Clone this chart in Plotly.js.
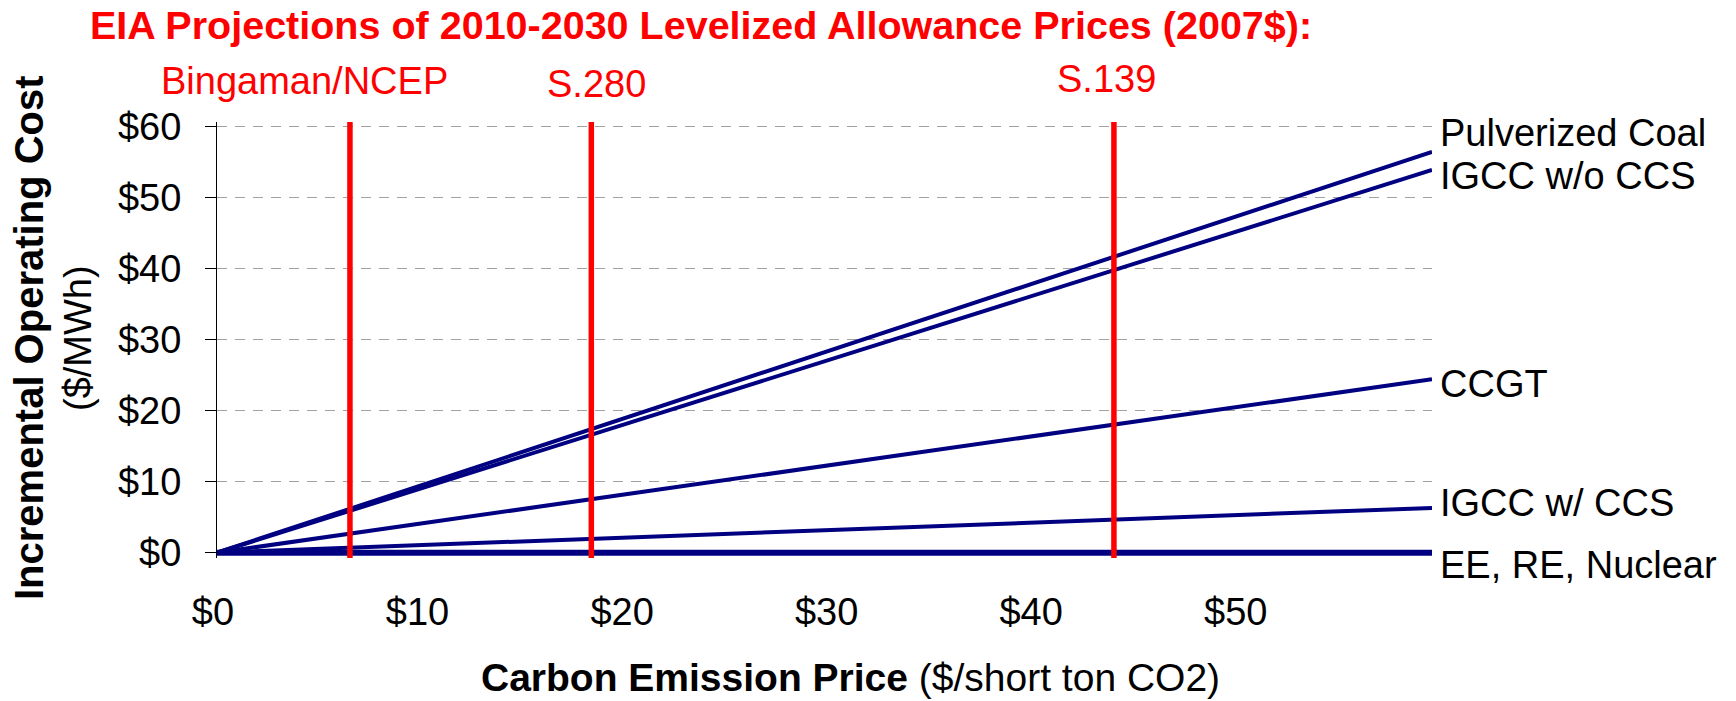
<!DOCTYPE html>
<html>
<head>
<meta charset="utf-8">
<script src="https://cdn.plot.ly/plotly-3.0.1.min.js"></script>
<style>html,body{margin:0;padding:0;background:#fff;}#chart{width:1736px;height:701px;}</style>
</head>
<body>
<div id="chart"></div>
<script>
// ---- data ----
const carbonPrice = [0, 59.4];                 // $/short ton CO2 (start, end of lines)
const seriesNames = ['EE, RE, Nuclear', 'IGCC w/ CCS', 'CCGT', 'IGCC w/o CCS', 'Pulverized Coal'];
const eeReNuclear = [0, 0];
const igccWithCcs = [0, 6.3];
const ccgt = [0, 24.4];
const igccWithoutCcs = [0, 53.85];
const pulverizedCoal = [0, 56.4];
const policyNames = ['Bingaman/NCEP', 'S.280', 'S.139'];
const policyPrices = [6.5, 18.3, 43.85];
const xTickVals = [0, 10, 20, 30, 40, 50];
const xTickText = ['$0', '$10', '$20', '$30', '$40', '$50'];
const yTickVals = [0, 10, 20, 30, 40, 50, 60];
const yTickText = ['$0', '$10', '$20', '$30', '$40', '$50', '$60'];

const FONT = 'Liberation Sans, Arial, sans-serif';
const NAVY = '#000080';
const RED = '#FF0000';

const seriesValues = [eeReNuclear, igccWithCcs, ccgt, igccWithoutCcs, pulverizedCoal];
const seriesWidths = [6, 4, 4, 4, 4];
const traces = seriesValues.map((vals, i) => ({
  type: 'scatter', mode: 'lines', name: seriesNames[i],
  x: carbonPrice, y: vals,
  line: {color: NAVY, width: seriesWidths[i]},
  hoverinfo: 'skip', showlegend: false
}));

const shapes = policyPrices.map(p => ({
  type: 'line', xref: 'x', yref: 'y domain', x0: p, x1: p, y0: 0, y1: 1,
  line: {color: RED, width: 5.5}, layer: 'above'
}));

// label positions (paper coords)
const policyLabelPos = [[0.0720, 1.0929], [0.3123, 1.0872], [0.7317, 1.0986]];
const seriesLabelY = {'Pulverized Coal': 0.9748, 'IGCC w/o CCS': 0.8761, 'CCGT': 0.3991, 'IGCC w/ CCS': 0.1261, 'EE, RE, Nuclear': -0.0161};

const annotations = [];
annotations.push({
  xref: 'paper', yref: 'paper', x: -0.1053, y: 1.2225, xanchor: 'left', yanchor: 'middle',
  text: '<b>EIA Projections of 2010-2030 Levelized Allowance Prices (2007$):</b>',
  showarrow: false, borderpad: 0, font: {family: FONT, size: 39.5, color: RED}
});
policyNames.forEach((n, i) => annotations.push({
  xref: 'paper', yref: 'paper', x: policyLabelPos[i][0], y: policyLabelPos[i][1],
  xanchor: 'center', yanchor: 'middle', text: n, showarrow: false, borderpad: 0,
  font: {family: FONT, size: 38, color: RED}
}));
seriesNames.forEach(n => annotations.push({
  xref: 'paper', yref: 'paper', x: 1.0058, y: seriesLabelY[n],
  xanchor: 'left', yanchor: 'middle', text: n, showarrow: false, borderpad: 0,
  font: {family: FONT, size: 38, color: '#000'}
}));
annotations.push({
  xref: 'paper', yref: 'paper', x: 0.5218, y: -0.2741, xanchor: 'center', yanchor: 'middle',
  text: '<b>Carbon Emission Price</b> ($/short ton CO2)', showarrow: false, borderpad: 0,
  font: {family: FONT, size: 39, color: '#000'}
});
annotations.push({
  xref: 'paper', yref: 'paper', x: -0.1547, y: 0.5046, xanchor: 'center', yanchor: 'middle',
  text: '<b>Incremental Operating Cost</b>', textangle: -90, showarrow: false, borderpad: 0,
  font: {family: FONT, size: 40, color: '#000'}
});
annotations.push({
  xref: 'paper', yref: 'paper', x: -0.1144, y: 0.5046, xanchor: 'center', yanchor: 'middle',
  text: '($/MWh)', textangle: -90, showarrow: false, borderpad: 0,
  font: {family: FONT, size: 38, color: '#000'}
});

const layout = {
  width: 1736, height: 701, autosize: false,
  margin: {l: 217, r: 304, t: 122, b: 143, pad: 0},
  paper_bgcolor: '#fff', plot_bgcolor: '#fff',
  font: {family: FONT, size: 38, color: '#000'},
  showlegend: false,
  xaxis: {
    range: [0, 59.4], tickvals: xTickVals, ticktext: xTickText,
    showgrid: false, zeroline: false, showline: false, ticks: '',
    ticklabelstandoff: 28, ticklabelshift: -4,
    tickfont: {family: FONT, size: 38, color: '#000'}
  },
  yaxis: {
    range: [-0.75, 60.6], tickvals: yTickVals, ticktext: yTickText,
    showgrid: true, gridcolor: '#a0a0a0', gridwidth: 1, griddash: '10px,8px',
    zeroline: false, showline: true, linecolor: '#000', linewidth: 1,
    ticks: 'outside', ticklen: 11, tickcolor: '#000', tickwidth: 1,
    ticklabelstandoff: 16,
    tickfont: {family: FONT, size: 38, color: '#000'}
  },
  shapes: shapes,
  annotations: annotations
};

Plotly.newPlot('chart', traces, layout, {displayModeBar: false, staticPlot: true});
</script>
</body>
</html>
